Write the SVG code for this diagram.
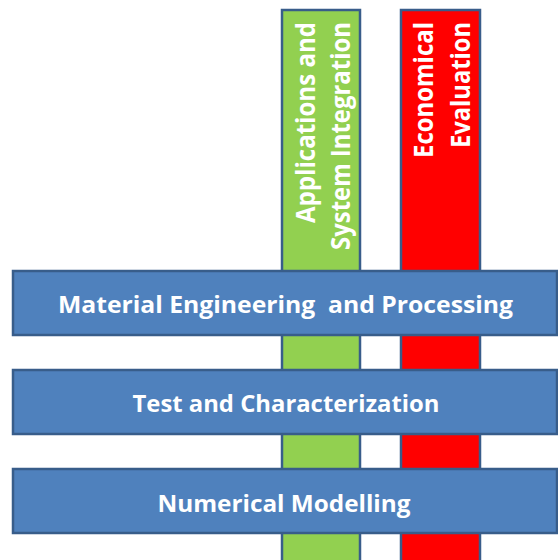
<svg xmlns="http://www.w3.org/2000/svg" width="558" height="560" viewBox="0 0 558 560">
<style>
.bar{stroke:#385d8a;stroke-width:2.5}
.h{fill:#4f81bd}
.g{fill:#92d050}
.r{fill:#ff0000}
.t{font-family:"Open Sans","Liberation Sans",sans-serif;font-weight:bold;fill:#ffffff}
.ht{font-size:24px;text-anchor:middle}
.vt{font-size:27px;text-anchor:end}
</style>
<rect width="558" height="560" fill="#ffffff"/>
<g id="applications">
<rect class="bar g" x="282" y="10" width="78" height="560"/>
<text class="t vt" transform="translate(315,22) rotate(-90)" textLength="201" lengthAdjust="spacingAndGlyphs">Applications and</text>
<text class="t vt" transform="translate(350,22) rotate(-90)" textLength="228" lengthAdjust="spacingAndGlyphs">System Integration</text>
</g>
<g id="economical">
<rect class="bar r" x="401" y="10" width="79" height="560"/>
<text class="t vt" transform="translate(433,22) rotate(-90)" textLength="136" lengthAdjust="spacingAndGlyphs">Economical</text>
<text class="t vt" transform="translate(470,22) rotate(-90)" textLength="126" lengthAdjust="spacingAndGlyphs">Evaluation</text>
</g>
<g id="material">
<rect class="bar h" x="13" y="271" width="544" height="64"/>
<text class="t ht" x="285.5" y="313" xml:space="preserve" textLength="455" lengthAdjust="spacingAndGlyphs">Material Engineering  and Processing</text>
</g>
<g id="test">
<rect class="bar h" x="13" y="370" width="544" height="64"/>
<text class="t ht" x="286" y="412" textLength="307" lengthAdjust="spacingAndGlyphs">Test and Characterization</text>
</g>
<g id="numerical">
<rect class="bar h" x="13" y="469" width="544" height="64"/>
<text class="t ht" x="284" y="512" textLength="253" lengthAdjust="spacingAndGlyphs">Numerical Modelling</text>
</g>
<g id="connectors"/>
</svg>
